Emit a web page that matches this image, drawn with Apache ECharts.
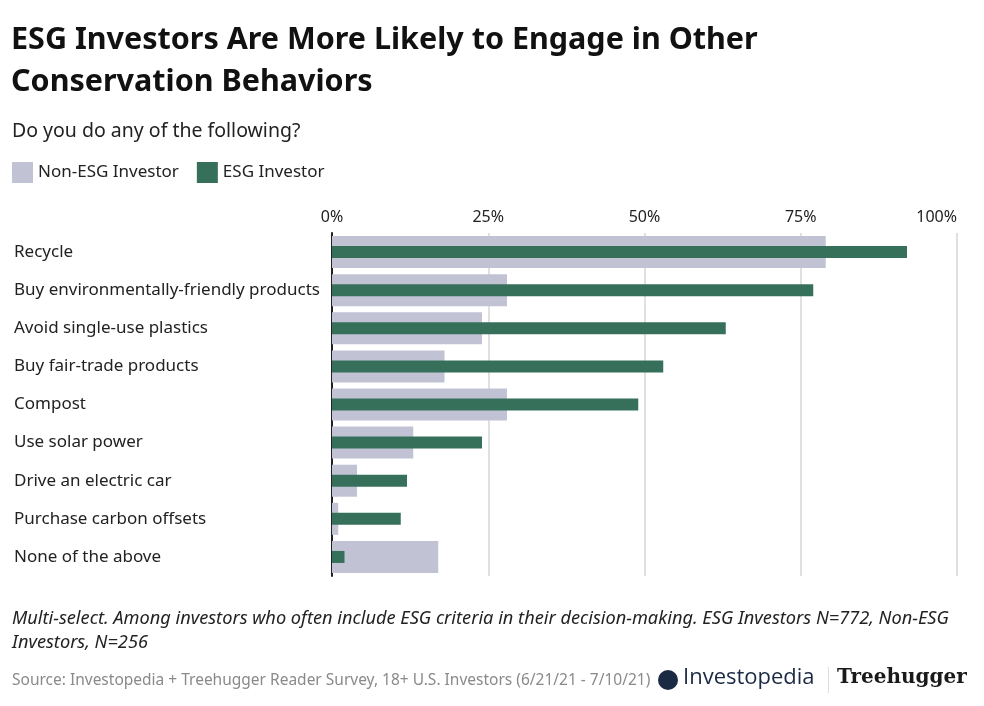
<!DOCTYPE html>
<html>
<head>
<meta charset="utf-8">
<script src="https://cdn.jsdelivr.net/npm/echarts@6/dist/echarts.min.js"></script>
<style>
html,body{margin:0;padding:0;background:#fff;}
#chart{width:984px;height:706px;}
</style>
</head>
<body>
<div id="chart"></div>
<script>
const categories = [
  "Recycle",
  "Buy environmentally-friendly products",
  "Avoid single-use plastics",
  "Buy fair-trade products",
  "Compost",
  "Use solar power",
  "Drive an electric car",
  "Purchase carbon offsets",
  "None of the above"
];
const nonEsgValues = [79, 28, 24, 18, 28, 13, 4, 1, 17];
const esgValues = [92, 77, 63, 53, 49, 24, 12, 11, 2];
const xTicks = [0, 25, 50, 75, 100];
const seriesNames = ["Non-ESG Investor", "ESG Investor"];

const FONT = "'Noto Sans', 'Source Sans Pro', Lato, sans-serif";
const chart = echarts.init(document.getElementById('chart'), null, {renderer: 'canvas'});

const option = {
  backgroundColor: '#ffffff',
  animation: false,
  textStyle: {fontFamily: FONT},
  title: [
    {
      text: 'ESG Investors Are More Likely to Engage in Other\nConservation Behaviors',
      left: 11, top: 19, padding: 0,
      textStyle: {fontFamily: FONT, fontSize: 30.5, fontWeight: 'bold', color: '#111', lineHeight: 42}
    },
    {
      text: 'Do you do any of the following?',
      left: 12, top: 121, padding: 0,
      textStyle: {fontFamily: FONT, fontSize: 19.5, fontWeight: 'normal', color: '#222'}
    },
    {
      text: 'Multi-select. Among investors who often include ESG criteria in their decision-making. ESG Investors N=772, Non-ESG\nInvestors, N=256',
      left: 12, top: 607, padding: 0,
      textStyle: {fontFamily: FONT, fontSize: 18.2, fontStyle: 'italic', fontWeight: 'normal', color: '#222', lineHeight: 24}
    },
    {
      text: 'Source: Investopedia + Treehugger Reader Survey, 18+ U.S. Investors (6/21/21 - 7/10/21)',
      left: 12, top: 673, padding: 0,
      textStyle: {fontFamily: FONT, fontSize: 15.5, fontWeight: 'normal', color: '#8a8a8a'}
    }
  ],
  legend: {
    left: 12, top: 162, padding: 0,
    icon: 'rect',
    itemWidth: 21, itemHeight: 21, itemGap: 18,
    textStyle: {fontFamily: FONT, fontSize: 17, color: '#222'},
    data: seriesNames
  },
  grid: {left: 332, right: 27, top: 233, bottom: 130, containLabel: false},
  xAxis: {
    type: 'value', position: 'top', min: 0, max: 100, interval: 25,
    axisLine: {show: false}, axisTick: {show: false},
    splitLine: {show: true, lineStyle: {color: '#e0e0e0', width: 2}},
    axisLabel: {formatter: '{value}%', fontFamily: FONT, fontSize: 16, color: '#222', margin: 8, alignMaxLabel: 'right'}
  },
  yAxis: [
    {
      type: 'category', data: categories, inverse: true,
      axisLine: {show: true, lineStyle: {color: '#222', width: 2}},
      axisTick: {show: false},
      axisLabel: {align: 'left', margin: 318, fontFamily: FONT, fontSize: 17, color: '#222'}
    },
    {
      type: 'category', data: categories, inverse: true, show: false,
      position: 'left'
    }
  ],
  series: [
    {
      name: seriesNames[0], type: 'bar', yAxisIndex: 0, data: nonEsgValues,
      barWidth: 32, itemStyle: {color: '#c1c3d5'}, z: 1
    },
    {
      name: seriesNames[1], type: 'bar', yAxisIndex: 1, data: esgValues,
      barWidth: 12, itemStyle: {color: '#36705b'}, z: 3
    }
  ],
  graphic: [
    {type: 'circle', shape: {cx: 668, cy: 680, r: 10}, style: {fill: '#1b2a44'}},
    {type: 'text', left: 683, top: 667, style: {text: 'Investopedia', fontFamily: "'Open Sans', sans-serif", fontSize: 22, fill: '#1b2a44'}},
    {type: 'rect', shape: {x: 828, y: 667, width: 1, height: 26}, style: {fill: '#ddd'}},
    {type: 'text', left: 837, top: 668, style: {text: 'Treehugger', fontFamily: "'DejaVu Serif', serif", fontWeight: 'bold', fontSize: 20, fill: '#1a1a1a'}}
  ]
};
chart.setOption(option);
</script>
</body>
</html>
